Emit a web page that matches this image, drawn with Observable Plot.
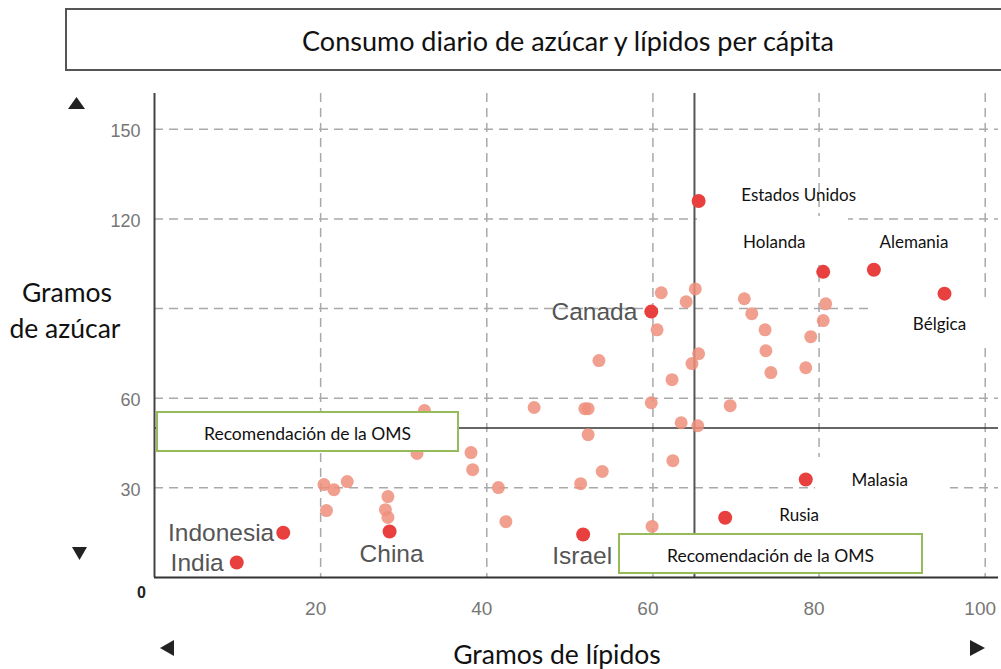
<!DOCTYPE html>
<html>
<head>
<meta charset="utf-8">
<script src="https://cdn.jsdelivr.net/npm/d3@7"></script>
<script src="https://cdn.jsdelivr.net/npm/@observablehq/plot@0.6"></script>
<style>
  html, body { margin: 0; padding: 0; background: #fff; }
  #wrap { position: relative; width: 1001px; height: 669px; overflow: hidden; font-family: Lato, "Noto Sans", sans-serif; }
  #wrap > svg { position: absolute; left: 0; top: 0; }
  .abs { position: absolute; white-space: nowrap; }
  #titlebox { left: 65px; top: 8px; width: 980px; height: 63px; box-sizing: border-box; border: 2px solid #555; background: #fff; }
  #title { left: 568px; top: 40px; transform: translate(-50%, -50%); font-size: 27px; color: #111; }
  .who { box-sizing: border-box; border: 2.5px solid #97bb58; background: #fff; font-size: 17.5px; color: #111; text-align: center; }
  .axtitle { font-size: 26.5px; color: #111; transform: translate(-50%, -50%); text-align: center; }
</style>
</head>
<body>
<div id="wrap">
  <div id="chart"></div>
</div>
<script>
// ---- Data ----
const title = "Consumo diario de azúcar y lípidos per cápita";
const xTitle = "Gramos de lípidos";
const yTitleLines = ["Gramos", "de azúcar"];
const whoText = "Recomendación de la OMS";

// Highlighted (labelled) countries
const countries = ["India", "Indonesia", "China", "Israel", "Canada", "Estados Unidos", "Holanda", "Alemania", "Bélgica", "Malasia", "Rusia"];
const countryLipids = [9.9, 15.5, 28.3, 51.6, 59.8, 65.5, 80.5, 86.6, 95.1, 78.4, 68.7];
const countrySugar  = [5.0, 15.0, 15.4, 14.4, 89.0, 126.0, 102.3, 103.0, 95.0, 32.8, 20.0];

// Other (unlabelled) countries
const otherLipids = [32.5, 45.7, 31.6, 38.1, 38.3, 20.4, 21.6, 23.2, 20.7, 28.1, 27.8, 28.1, 41.4, 42.3, 51.8, 52.2, 59.8, 62.3, 63.4, 65.4, 52.2, 62.4, 53.9, 51.3, 59.9, 61.0, 65.1, 64.0, 60.5, 71.0, 71.9, 73.5, 73.6, 74.2, 79.0, 78.4, 53.5, 65.5, 64.7, 69.3, 80.8, 80.5];
const otherSugar  = [55.9, 56.9, 41.5, 41.8, 36.1, 31.1, 29.4, 32.1, 22.4, 27.1, 22.7, 20.1, 30.1, 18.7, 56.5, 56.5, 58.5, 66.2, 51.8, 50.8, 47.8, 39.1, 35.5, 31.4, 17.1, 95.3, 96.6, 92.3, 82.9, 93.3, 88.3, 82.9, 75.9, 68.6, 80.6, 70.2, 72.6, 74.9, 71.6, 57.5, 91.6, 86.0];

// WHO recommendations
const whoLipids = 65;
const whoSugar = 50;

// Axes
const xGrid = [20, 40, 60, 80, 100];
const yGrid = [30, 60, 90, 120, 150];
const xTickLabels = [20, 40, 60, 80, 100];
const yTickLabels = [30, 60, 120, 150];

// ---- Build tables ----
const highlighted = countries.map((name, i) => ({ name, lipids: countryLipids[i], sugar: countrySugar[i] }));
const others = otherLipids.map((v, i) => ({ lipids: v, sugar: otherSugar[i] }));

// label placement (style / layout)
const bigLabels = { "India": [-13, 1, "end"], "Indonesia": [-9, 0, "end"], "China": [2, 23, "middle"], "Israel": [-1, 22, "middle"], "Canada": [-14, 1, "end"] };
const smallLabels = { "Estados Unidos": [100, -6], "Holanda": [-49, -29], "Alemania": [40, -27], "Bélgica": [-5, 31], "Malasia": [74, 1], "Rusia": [74, -2] };

const big = highlighted.filter(d => d.name in bigLabels);
const small = highlighted.filter(d => d.name in smallLabels);

// white label backgrounds that mask gridlines (pixel layout)
const maskMark = () => {
  const g = d3.create("svg:g");
  [[697, 216, 151, 49], [872, 300, 130, 45], [815, 457, 135, 76]].forEach(([x, y, w, h]) =>
    g.append("rect").attr("x", x).attr("y", y).attr("width", w).attr("height", h).attr("fill", "#fff"));
  return g.node();
};

const chart = Plot.plot({
  width: 1001,
  height: 669,
  marginLeft: 154,
  marginRight: 3,
  marginTop: 93,
  marginBottom: 92,
  x: { domain: [0, 101.6], axis: null },
  y: { domain: [0, 162], axis: null },
  style: { fontFamily: "'Liberation Sans', Arial, sans-serif", background: "transparent", overflow: "visible" },
  marks: [
    Plot.ruleX(xGrid, { x: d => d, stroke: "#a9a9a9", strokeWidth: 1.5, strokeDasharray: "9,6" }),
    Plot.ruleY(yGrid, { y: d => d, stroke: "#a9a9a9", strokeWidth: 1.5, strokeDasharray: "9,6" }),
    maskMark,
    Plot.ruleX([whoLipids], { stroke: "#555", strokeWidth: 2 }),
    Plot.ruleY([whoSugar], { stroke: "#333", strokeWidth: 1.5 }),
    Plot.ruleX([0], { stroke: "#444", strokeWidth: 2 }),
    Plot.ruleY([0], { stroke: "#333", strokeWidth: 2 }),
    Plot.dot(others, { x: "lipids", y: "sugar", r: 6.5, fill: "#ef8f7d", fillOpacity: 0.85 }),
    Plot.dot(highlighted, { x: "lipids", y: "sugar", r: 7, fill: "#e8403f" }),
    Plot.text(yTickLabels, { x: 0, y: d => d, text: d => String(d), dx: -14, dy: 2, textAnchor: "end", fontSize: 18, fill: "#777" }),
    Plot.text(xTickLabels, { x: d => d, y: 0, text: d => String(d), dx: -5, dy: 31, fontSize: 19, fill: "#777" }),
    Plot.text(["0"], { x: 0, y: 0, text: d => d, dx: -13, dy: 15, fontSize: 16, fontWeight: "bold", fill: "#222" }),
    ...big.map(d => Plot.text([d], { x: "lipids", y: "sugar", text: "name", dx: bigLabels[d.name][0], dy: bigLabels[d.name][1], textAnchor: bigLabels[d.name][2], fontSize: 24.5, fill: "#555" })),
    ...small.map(d => Plot.text([d], { x: "lipids", y: "sugar", text: "name", dx: smallLabels[d.name][0], dy: smallLabels[d.name][1], fontSize: 17, fill: "#111", fontFamily: "Lato, 'Noto Sans', sans-serif" }))
  ]
});

const wrap = document.getElementById("wrap");
wrap.appendChild(chart);

function addDiv(cls, id, text, css) {
  const el = document.createElement("div");
  el.className = "abs " + cls;
  if (id) el.id = id;
  if (text != null) el.textContent = text;
  Object.assign(el.style, css || {});
  wrap.appendChild(el);
  return el;
}

// title box
addDiv("", "titlebox", null);
addDiv("", "title", title);

// WHO boxes
addDiv("who", null, whoText, { left: "156px", top: "411px", width: "303px", height: "41px", lineHeight: "38px", paddingTop: "2px" });
addDiv("who", null, whoText, { left: "618px", top: "533px", width: "305px", height: "41px", lineHeight: "38px", paddingTop: "2px" });

// axis titles
addDiv("axtitle", null, xTitle, { left: "557px", top: "654px" });
addDiv("axtitle", null, yTitleLines[0], { left: "67px", top: "292px" });
addDiv("axtitle", null, yTitleLines[1], { left: "65px", top: "328px" });

// arrows
const ns = "http://www.w3.org/2000/svg";
const arr = document.createElementNS(ns, "svg");
arr.setAttribute("width", 1001); arr.setAttribute("height", 669);
arr.style.position = "absolute"; arr.style.left = "0"; arr.style.top = "0"; arr.style.pointerEvents = "none";
[["68,109 85,109 76.5,97"], ["72,547 87,547 79.5,560"], ["174,640 174,656 160,648"], ["970,640 970,656 985,648"]].forEach(([p]) => {
  const poly = document.createElementNS(ns, "polygon");
  poly.setAttribute("points", p); poly.setAttribute("fill", "#222");
  arr.appendChild(poly);
});
wrap.appendChild(arr);
</script>
</body>
</html>
